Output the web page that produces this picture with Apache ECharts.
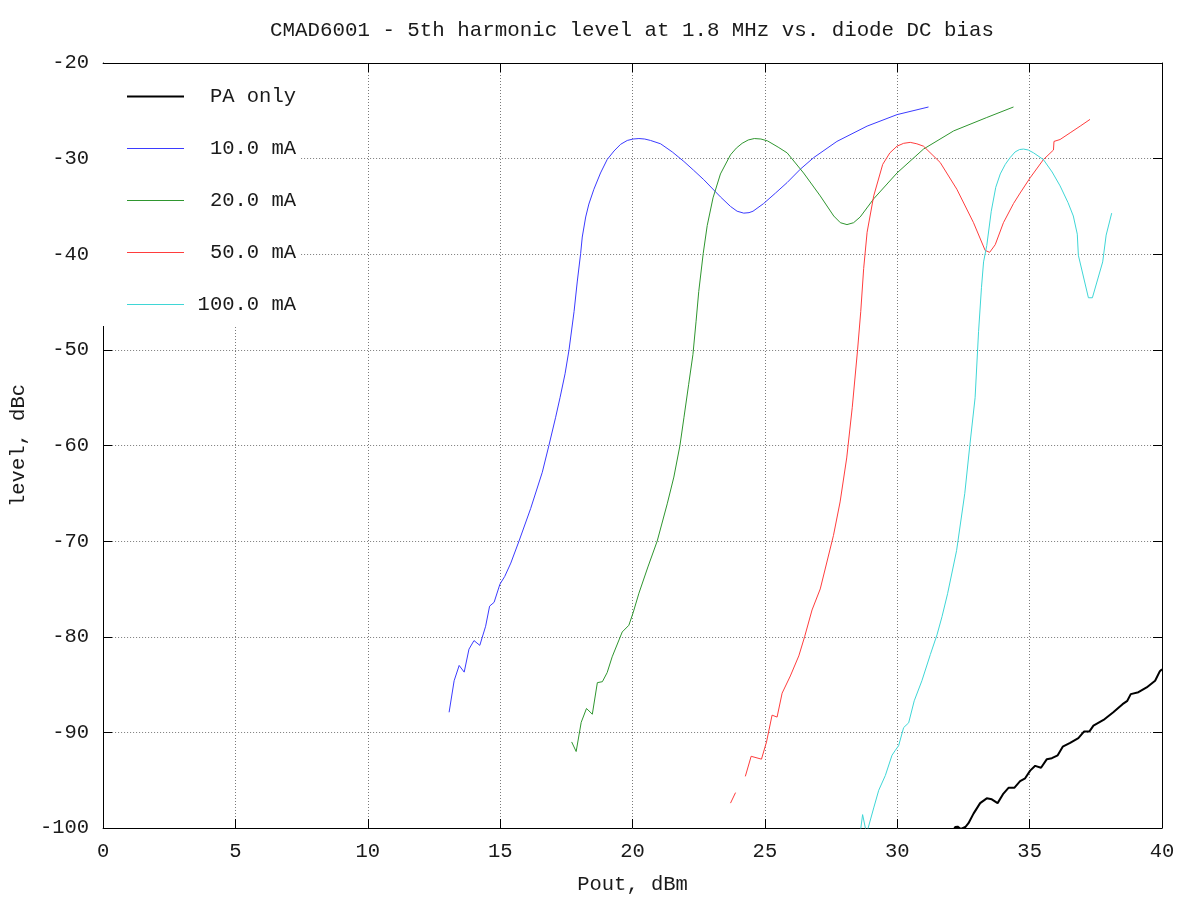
<!DOCTYPE html>
<html>
<head>
<meta charset="utf-8">
<script src="https://cdn.jsdelivr.net/npm/echarts@6/dist/echarts.min.js"></script>
<style>html,body{margin:0;padding:0;background:#fff}#c{width:1200px;height:900px}</style>
</head>
<body>
<div id="c"></div>
<script>
const seriesNames = ['PA only', '10.0 mA', '20.0 mA', '50.0 mA', '100.0 mA'];
const xTicks = [0, 5, 10, 15, 20, 25, 30, 35, 40];
const yTicks = [-100, -90, -80, -70, -60, -50, -40, -30, -20];

const paOnly = [[32.10,-100.3],[32.19,-99.9],[32.28,-99.86],[32.40,-100.1],[32.57,-99.9],[32.69,-99.5],[32.88,-98.5],[33.13,-97.4],[33.38,-96.9],[33.57,-97.0],[33.79,-97.4],[34.01,-96.4],[34.20,-95.8],[34.42,-95.8],[34.64,-95.1],[34.83,-94.8],[35.02,-94.0],[35.21,-93.5],[35.43,-93.7],[35.65,-92.8],[35.84,-92.7],[36.06,-92.4],[36.25,-91.5],[36.53,-91.1],[36.84,-90.6],[37.06,-89.9],[37.26,-89.9],[37.41,-89.3],[37.79,-88.7],[38.16,-87.9],[38.51,-87.05],[38.69,-86.7],[38.82,-86.0],[39.11,-85.8],[39.42,-85.3],[39.74,-84.6],[39.92,-83.6],[40.0,-83.4]];

const bias10 = [[13.07,-87.9],[13.26,-84.6],[13.45,-83.0],[13.64,-83.7],[13.82,-81.3],[14.01,-80.4],[14.23,-80.9],[14.45,-78.9],[14.60,-76.8],[14.77,-76.4],[14.99,-74.5],[15.17,-73.7],[15.40,-72.3],[15.71,-70.0],[16.15,-66.6],[16.59,-62.8],[16.84,-60.0],[17.09,-57.1],[17.26,-55.0],[17.45,-52.5],[17.60,-50.0],[17.79,-46.0],[17.91,-42.9],[18.04,-39.9],[18.10,-38.2],[18.23,-36.1],[18.35,-34.75],[18.54,-33.2],[18.79,-31.5],[19.04,-30.1],[19.30,-29.2],[19.55,-28.5],[19.80,-28.1],[20.02,-27.95],[20.24,-27.9],[20.46,-27.95],[20.68,-28.1],[21.06,-28.45],[21.50,-29.3],[21.94,-30.3],[22.30,-31.2],[22.69,-32.2],[23.32,-34.0],[23.70,-35.0],[23.95,-35.5],[24.20,-35.7],[24.40,-35.65],[24.55,-35.5],[24.95,-34.7],[25.40,-33.6],[25.84,-32.5],[26.34,-31.1],[26.84,-29.9],[27.72,-28.2],[28.86,-26.6],[29.99,-25.4],[31.18,-24.6]];

const bias20 = [[17.70,-91.0],[17.87,-92.0],[18.06,-88.95],[18.26,-87.5],[18.48,-88.1],[18.67,-84.8],[18.86,-84.7],[19.04,-83.75],[19.23,-82.1],[19.61,-79.5],[19.86,-78.8],[20.02,-77.5],[20.24,-75.45],[20.58,-72.7],[20.93,-70.0],[21.31,-66.1],[21.56,-63.3],[21.79,-60.0],[21.94,-57.1],[22.12,-53.6],[22.28,-50.5],[22.40,-47.0],[22.50,-43.9],[22.67,-39.9],[22.82,-37.0],[23.04,-34.1],[23.32,-31.6],[23.70,-29.6],[23.92,-28.9],[24.14,-28.4],[24.37,-28.05],[24.60,-27.9],[24.85,-27.95],[25.10,-28.15],[25.50,-28.8],[25.84,-29.4],[26.46,-31.5],[27.09,-33.9],[27.60,-36.0],[27.85,-36.7],[28.10,-36.9],[28.35,-36.7],[28.60,-36.1],[29.11,-34.2],[29.99,-31.5],[30.99,-29.0],[32.13,-27.1],[33.38,-25.7],[34.39,-24.6]];

const bias50 = [[23.70,-97.4],[23.89,-96.3],null,[24.26,-94.6],[24.48,-92.5],[24.87,-92.8],[25.06,-91.0],[25.27,-88.2],[25.46,-88.4],[25.65,-85.9],[25.96,-84.1],[26.28,-82.0],[26.50,-80.0],[26.78,-77.2],[27.09,-75.0],[27.59,-69.4],[27.84,-65.9],[28.09,-61.3],[28.30,-56.0],[28.50,-50.0],[28.62,-46.0],[28.73,-41.5],[28.86,-37.7],[29.11,-33.9],[29.45,-30.6],[29.72,-29.4],[29.99,-28.7],[30.24,-28.4],[30.49,-28.3],[30.74,-28.45],[30.99,-28.7],[31.62,-30.4],[32.25,-33.2],[32.88,-36.7],[33.32,-39.6],[33.49,-39.8],[33.70,-39.0],[34.01,-36.7],[34.39,-34.7],[34.64,-33.6],[35.02,-32.0],[35.52,-30.1],[35.90,-29.1],[35.92,-28.2],[36.15,-28.0],[36.53,-27.3],[36.91,-26.6],[37.28,-25.9]];

const bias100 = [[28.60,-100.5],[28.69,-98.6],[28.84,-100.6],[29.11,-97.9],[29.30,-96.05],[29.55,-94.5],[29.80,-92.4],[29.92,-91.9],[30.05,-91.4],[30.24,-89.5],[30.43,-89.0],[30.64,-86.7],[30.93,-84.6],[31.25,-81.85],[31.50,-79.8],[31.69,-77.9],[31.90,-75.5],[32.24,-71.0],[32.55,-65.0],[32.74,-60.0],[32.94,-55.0],[33.07,-48.1],[33.18,-43.5],[33.26,-40.8],[33.38,-39.1],[33.55,-35.5],[33.72,-33.0],[33.89,-31.6],[34.08,-30.6],[34.26,-29.9],[34.45,-29.3],[34.62,-29.05],[34.77,-29.0],[34.95,-29.1],[35.15,-29.4],[35.52,-30.1],[35.85,-31.4],[36.15,-32.85],[36.45,-34.6],[36.65,-36.0],[36.80,-37.9],[36.84,-40.1],[37.22,-44.55],[37.37,-44.55],[37.76,-40.8],[37.89,-38.0],[38.10,-35.7]];

const seriesData = [paOnly, bias10, bias20, bias50, bias100];
const colors = ['#000000', '#3b3bff', '#2f962f', '#ff3d3d', '#3fd6d6'];
const widths = [2, 1, 1, 1, 1];

const FONT = '"Liberation Mono", "DejaVu Sans Mono", monospace';
const FS = 20.5;
const TXT = '#1a1a1a';

const chart = echarts.init(document.getElementById('c'), null, {renderer: 'canvas'});

const axisCommon = {
  axisLine: {show: true, onZero: false, lineStyle: {color: '#000', width: 1}},
  axisTick: {show: true, inside: true, length: 9, lineStyle: {color: '#000'}},
};

chart.setOption({
  animation: false,
  backgroundColor: '#fff',
  title: {
    text: 'CMAD6001 - 5th harmonic level at 1.8 MHz vs. diode DC bias',
    left: 632, top: 20, textAlign: 'center', padding: 0,
    textStyle: {fontFamily: FONT, fontSize: 20.8, fontWeight: 'normal', color: TXT}
  },
  grid: {left: 102, right: 38, top: 63, bottom: 67, containLabel: false},
  legend: {
    orient: 'vertical', left: 103, top: 64,
    backgroundColor: '#fff',
    padding: [22, 4, 11, 24],
    itemWidth: 57, itemHeight: 14, itemGap: 31,
    symbolKeepAspect: true,
    data: seriesNames.map(function (n, i) {
      return {name: n, icon: widths[i] > 1 ? 'path://M0,0H57V2H0Z' : 'path://M0,0H57V1H0Z'};
    }),
    formatter: function (name) { return '{a|' + name + '}'; },
    textStyle: {
      fontFamily: FONT, fontSize: FS, color: TXT,
      rich: {a: {fontFamily: FONT, fontSize: FS, color: TXT, width: 107, align: 'right', lineHeight: 20}}
    }
  },
  xAxis: [
    Object.assign({}, axisCommon, {
      type: 'value', position: 'bottom', min: xTicks[0], max: xTicks[xTicks.length - 1], interval: 5,
      name: 'Pout, dBm', nameLocation: 'middle', nameGap: 46,
      nameTextStyle: {fontFamily: FONT, fontSize: FS, color: TXT},
      axisLabel: {fontFamily: FONT, fontSize: FS, color: TXT, margin: 13},
      splitLine: {show: true, lineStyle: {color: '#7a7a7a', type: [1, 2], width: 1}}
    }),
    Object.assign({}, axisCommon, {
      type: 'value', position: 'top', min: xTicks[0], max: xTicks[xTicks.length - 1], interval: 5,
      axisLabel: {show: false}, splitLine: {show: false}
    })
  ],
  yAxis: [
    Object.assign({}, axisCommon, {
      type: 'value', position: 'left', min: yTicks[0], max: yTicks[yTicks.length - 1], interval: 10,
      name: 'level, dBc', nameLocation: 'middle', nameGap: 69, nameRotate: 90,
      nameTextStyle: {fontFamily: FONT, fontSize: FS, color: TXT},
      axisLabel: {fontFamily: FONT, fontSize: FS, color: TXT, margin: 14},
      splitLine: {show: true, lineStyle: {color: '#7a7a7a', type: [1, 2], width: 1}}
    }),
    Object.assign({}, axisCommon, {
      type: 'value', position: 'right', min: yTicks[0], max: yTicks[yTicks.length - 1], interval: 10,
      axisLabel: {show: false}, splitLine: {show: false}
    })
  ],
  series: seriesNames.map(function (n, i) {
    return {
      name: n, type: 'line', data: seriesData[i],
      xAxisIndex: 0, yAxisIndex: 0,
      symbol: 'none', showSymbol: false, smooth: false,
      connectNulls: false, clip: true,
      color: colors[i],
      lineStyle: {color: colors[i], width: widths[i]},
      emphasis: {disabled: true}
    };
  })
});
</script>
</body>
</html>
